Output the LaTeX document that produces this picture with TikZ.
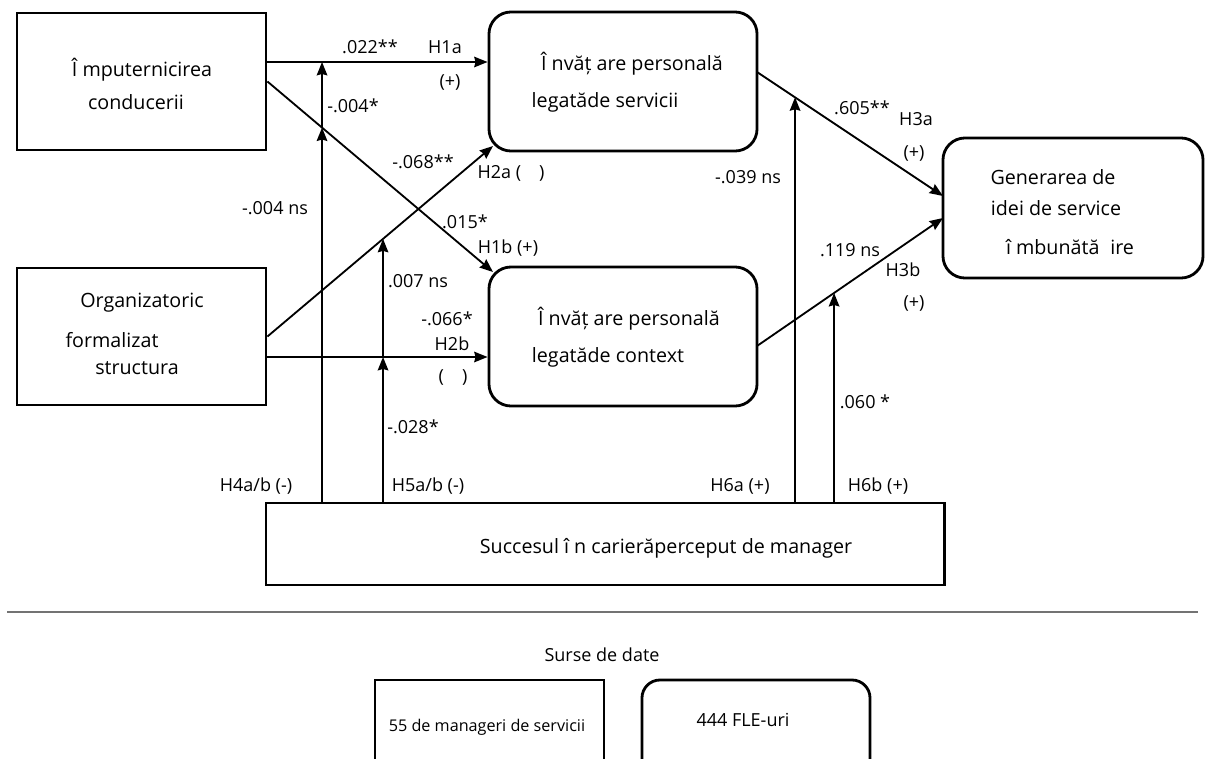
\documentclass[tikz,border=0pt]{standalone}
\usepackage{fontspec}
\setmainfont{Open Sans}
\usetikzlibrary{arrows.meta}

\tikzset{
  box/.style={draw, line width=2pt, minimum width=6.225cm, minimum height=3.425cm},
  rbox/.style={box, rounded corners=0.55cm},
  arr/.style={line width=1.3pt, -{Stealth[length=9.5pt,width=7.5pt,inset=1pt]}},
  txt/.style={font=\fontsize{14}{16}\selectfont, inner sep=0pt},
  lbl/.style={font=\fontsize{12.8}{15}\selectfont, inner sep=0pt},
}

\begin{document}
\begin{tikzpicture}[x=0.025cm, y=-0.025cm]
\clip (0,0) rectangle (1205,758);

% constructs
\node[box] (lead) at (141.5,81.5) {};
\node[box] (struct) at (141.5,336.5) {};
\node[rbox, minimum width=6.7cm, minimum height=3.475cm] (svc) at (623,81.5) {};
\node[rbox, minimum width=6.7cm, minimum height=3.475cm] (ctx) at (623,336.5) {};
\node[rbox, minimum width=6.5cm, minimum height=3.5cm] (gen) at (1073,208) {};
\node[box, minimum width=16.95cm, minimum height=2.05cm] (car) at (605,544) {};

    \node[txt] (leadA) at (142,70) {Î mputernicirea};
    \node[txt] (leadB) at (136,102) {conducerii};
    \node[txt] (structA) at (142,303) {Organizatoric};
    \node[txt] (structB) at (112,340) {formalizat};
    \node[txt] (structC) at (137,368) {structura};
    \node[txt] (svcA) at (632,64) {Î nvăț are personală};
    \node[txt] (svcB) at (605,102) {legatăde servicii};
    \node[txt] (ctxA) at (629,319) {Î nvăț are personală};
    \node[txt] (ctxB) at (608,357) {legatăde context};
    \node[txt] (genA) at (1053,177) {Generarea de};
    \node[txt] (genB) at (1056,208) {idei de service};
    \node[txt] (genC) at (1070,247) {î mbunătă\hspace{0.55em}ire};
    \node[txt] (carT) at (666,548) {Succesul î n carierăperceput de manager};

% ends of the paths
\coordinate (leadHi) at (266,62);
\coordinate (structLo) at (266,357);
\coordinate (ctxNW) at (493,272);
\coordinate (svcSW) at (493,146);
\coordinate (svcOut) at (757,72);
\coordinate (ctxOut) at (757,346);
\coordinate (genHi) at (943,196);
\coordinate (genLo) at (943,218);

    \draw[arr] (leadHi) -- (svc.west |- leadHi);
    \draw[arr] (lead.east) -- (ctxNW);
    \draw[arr] (struct.east) -- (svcSW);
    \draw[arr] (structLo) -- (ctx.west |- structLo);
    \draw[arr] (svcOut) -- (genHi);
    \draw[arr] (ctxOut) -- (genLo);

% moderator lines from the bottom box
\coordinate (m1) at (intersection of lead.east--ctxNW and 322,0--322,600);
\coordinate (m2) at (intersection of struct.east--svcSW and 383,0--383,600);
\coordinate (m3) at (intersection of svcOut--genHi and 795,0--795,600);
\coordinate (m4) at (intersection of ctxOut--genLo and 834,0--834,600);

    \draw[arr] (car.north -| m1) -- (m1);
    \draw[arr] (m1) -- (m1 |- leadHi);
    \draw[arr] (car.north -| m2) -- (m2 |- structLo);
    \draw[arr] (m2 |- structLo) -- (m2);
    \draw[arr] (car.north -| m3) -- (m3);
    \draw[arr] (car.north -| m4) -- (m4);

% coefficients and hypotheses
    \node[lbl] (c1) at (370,47) {.022**};
    \node[lbl] (h1a) at (445,47) {H1a};
    \node[lbl] (h1aS) at (450,82) {(+)};
    \node[lbl] (c2) at (353,106) {-.004*};
    \node[lbl] (c3) at (423,162) {-.068**};
    \node[lbl] (h2a) at (511,173) {H2a (\hspace{1em})};
    \node[lbl] (c4) at (275,208) {-.004 ns};
    \node[lbl] (c5) at (465,222) {.015*};
    \node[lbl] (h1b) at (508,248) {H1b (+)};
    \node[lbl] (c6) at (418,281) {.007 ns};
    \node[lbl] (c7) at (447,319) {-.066*};
    \node[lbl] (h2b) at (452,344) {H2b};
    \node[lbl] (h2bS) at (453,377) {(\hspace{1em})};
    \node[lbl] (c8) at (413,427) {-.028*};
    \node[lbl] (h4) at (256,486) {H4a/b (-)};
    \node[lbl] (h5) at (428,486) {H5a/b (-)};
    \node[lbl] (h6a) at (740,486) {H6a (+)};
    \node[lbl] (h6b) at (878,486) {H6b (+)};
    \node[lbl] (c9) at (748,177) {-.039 ns};
    \node[lbl] (c10) at (862,108) {.605**};
    \node[lbl] (h3a) at (916,119) {H3a};
    \node[lbl] (h3aS) at (914,153) {(+)};
    \node[lbl] (c11) at (850,250) {.119 ns};
    \node[lbl] (h3b) at (903,270) {H3b};
    \node[lbl] (h3bS) at (914,303) {(+)};
    \node[lbl] (c12) at (865,402) {.060 *};

% data sources
\draw[line width=1.5pt, black!55] (7,612) -- (1198,612);
    \node[lbl] (src) at (602,655) {Surse de date};
\node[draw, line width=2pt, minimum width=5.725cm, minimum height=2.5cm] (mgr) at (489.5,730) {};
\node[draw, line width=2pt, rounded corners=0.45cm, minimum width=5.7cm, minimum height=2.5cm] (fle) at (756,730) {};
    \node[font=\fontsize{11.5}{13}\selectfont, inner sep=0pt] (mgrT) at (487,727) {55 de manageri de servicii};
    \node[lbl] (fleT) at (743,720) {444 FLE-uri};
\end{tikzpicture}
\end{document}
